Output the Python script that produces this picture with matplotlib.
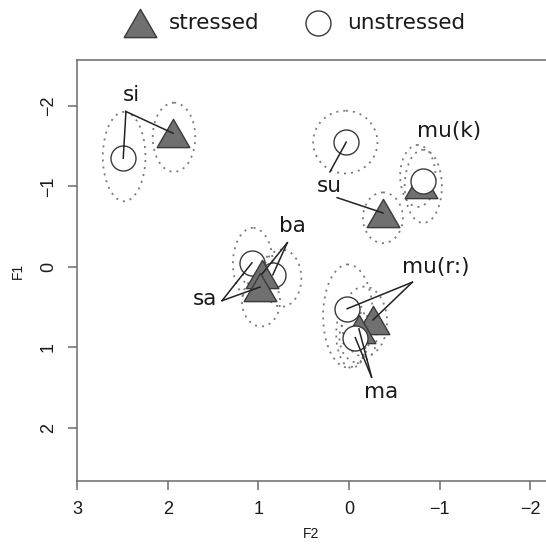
import numpy as np
import matplotlib
matplotlib.use("Agg")
import matplotlib.pyplot as plt
from matplotlib.patches import Ellipse
from matplotlib.lines import Line2D
from matplotlib.path import Path

# ---------------------------------------------------------------- data
vowels = ["si", "su", "mu(k)", "ba", "sa", "mu(r:)", "ma"]

# mean positions (F2, F1)
str_x = [1.94, -0.375, -0.79, 0.96, 0.98, -0.265, -0.11]
str_y = [-1.66, -0.67, -1.03, 0.09, 0.25, 0.66, 0.77]
uns_x = [2.49, 0.03, -0.82, 0.84, 1.07, 0.02, -0.07]
uns_y = [-1.35, -1.55, -1.07, 0.10, -0.05, 0.52, 0.88]

# dispersion ellipses: centre x, centre y, width, height
str_ell_x = [1.93, -0.375, -0.82, 0.98, 0.97, -0.17, -0.10]
str_ell_y = [-1.61, -0.61, -1.00, 0.09, 0.43, 0.68, 0.88]
str_ell_w = [0.47, 0.44, 0.41, 0.38, 0.42, 0.50, 0.41]
str_ell_h = [0.86, 0.63, 0.91, 0.47, 0.62, 0.87, 0.62]
uns_ell_x = [2.48, 0.04, -0.76, 0.74, 1.06, 0.01, -0.03]
uns_ell_y = [-1.37, -1.55, -1.13, 0.14, -0.04, 0.61, 0.83]
uns_ell_w = [0.47, 0.71, 0.39, 0.43, 0.44, 0.55, 0.34]
uns_ell_h = [1.11, 0.78, 0.77, 0.71, 0.89, 1.28, 0.85]

# label text positions
lab_x = [2.40, 0.22, -1.11, 0.62, 1.59, -0.96, -0.36]
lab_y = [-2.14, -1.01, -1.69, -0.51, 0.40, 0.0, 1.55]

# pointer line starts (None = no pointer)
str_from = [(2.46, -1.93), (0.13, -0.86), None, (0.68, -0.30), (1.40, 0.42), (-0.70, 0.19), (-0.25, 1.37)]
uns_from = [(2.46, -1.93), (0.21, -1.18), None, (0.68, -0.30), (1.40, 0.42), (-0.70, 0.19), (-0.25, 1.37)]

uns_z = [3.5, 3.5, 3.5, 2.5, 2.5, 2.5, 3.5]

# ---------------------------------------------------------------- style
tri = Path([(-1, -0.866), (1, -0.866), (0, 0.866), (-1, -0.866)],
           [Path.MOVETO, Path.LINETO, Path.LINETO, Path.CLOSEPOLY])
tri_kw = dict(marker=tri, markersize=23.5, markerfacecolor="#707070",
              markeredgecolor="#3a3a3a", markeredgewidth=1.0, linestyle="none")
circ_kw = dict(marker="o", markersize=18, markerfacecolor="white",
               markeredgecolor="#3a3a3a", markeredgewidth=1.0, linestyle="none")
ell_kw = dict(fill=False, edgecolor="#7a7a7a", linewidth=1.3,
              linestyle=(0, (1.1, 2.8)), zorder=1)
txt_col = "#1a1a1a"
ax_col = "#6a6a6a"

fig = plt.figure(figsize=(5.46, 5.44), dpi=100)
ax = fig.add_axes([77 / 546, 1 - 481 / 544, 1 - 77 / 546, (481 - 60) / 544])

for i, v in enumerate(vowels):
    ax.add_patch(Ellipse((str_ell_x[i], str_ell_y[i]), str_ell_w[i], str_ell_h[i], **ell_kw))
    ax.add_patch(Ellipse((uns_ell_x[i], uns_ell_y[i]), uns_ell_w[i], uns_ell_h[i], **ell_kw))
    ax.plot(str_x[i], str_y[i], zorder=3, **tri_kw)
    ax.plot(uns_x[i], uns_y[i], zorder=uns_z[i], **circ_kw)
    if str_from[i] is not None:
        ax.plot([str_from[i][0], str_x[i]], [str_from[i][1], str_y[i]],
                color="#222222", lw=1.1, zorder=4)
    if uns_from[i] is not None:
        ax.plot([uns_from[i][0], uns_x[i]], [uns_from[i][1], uns_y[i]],
                color="#222222", lw=1.1, zorder=4)
    ax.text(lab_x[i], lab_y[i], v, fontsize=15.5, family="DejaVu Sans",
            color=txt_col, ha="center", va="center", zorder=5)

ax.set_xlim(3.0, -2.174)
ax.set_ylim(2.66, -2.57)
ax.set_xticks([3, 2, 1, 0, -1, -2])
ax.set_yticks([-2, -1, 0, 1, 2])
ax.set_xticklabels(["3", "2", "1", "0", "\u22121", "\u22122"])
ax.set_yticklabels(["\u22122", "\u22121", "0", "1", "2"], rotation=90, va="center")

for s in ["left", "bottom", "top"]:
    ax.spines[s].set_color(ax_col)
    ax.spines[s].set_linewidth(1.1)
ax.spines["right"].set_visible(False)
ax.tick_params(direction="out", length=6.5, width=1.1, color=ax_col,
               labelcolor=txt_col, labelsize=13, pad=8)
for lab in ax.get_xticklabels() + ax.get_yticklabels():
    lab.set_family("Liberation Sans")

ax.set_xlabel("F2", fontsize=10, family="Liberation Sans", color=txt_col, labelpad=6.5)
ax.set_ylabel("F1", fontsize=10, family="Liberation Sans", color=txt_col, labelpad=11)

# legend on top
fig.add_artist(Line2D([140 / 546], [1 - 23 / 544], transform=fig.transFigure, **tri_kw))
fig.add_artist(Line2D([318 / 546], [1 - 23 / 544], transform=fig.transFigure, **circ_kw))
fig.text(169 / 546, 1 - 23 / 544, "stressed", fontsize=15.5, family="DejaVu Sans",
         color=txt_col, va="center", ha="left")
fig.text(347 / 546, 1 - 23 / 544, "unstressed", fontsize=15.5, family="DejaVu Sans",
         color=txt_col, va="center", ha="left")

fig.savefig("out.png", dpi=100)
